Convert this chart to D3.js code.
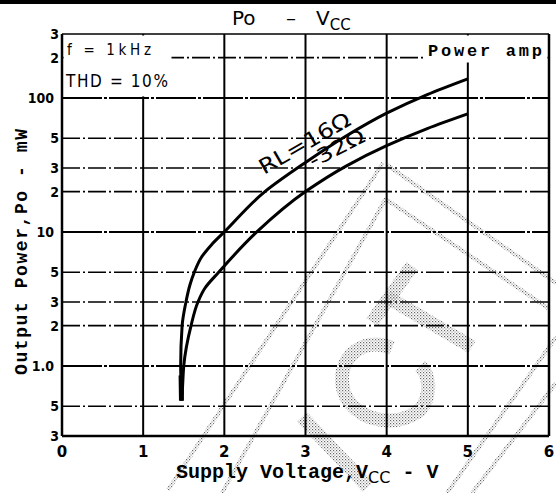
<!DOCTYPE html>
<html><head><meta charset="utf-8">
<script src="https://cdn.jsdelivr.net/npm/d3@7"></script>
<style>
html,body{margin:0;padding:0;background:#fff;}
svg{display:block;}
</style></head>
<body>
<svg id="chart" width="556" height="493"></svg>
<script>
// ---- data ----
const xTicks = [0, 1, 2, 3, 4, 5, 6];
const yTickValues = [0.3, 0.5, 1, 2, 3, 5, 10, 20, 30, 50, 100, 200, 300];
const yTickLabels = ["3", "5", "1.0", "2", "3", "5", "10", "2", "3", "5", "100", "2", "3"];
const yMinorGrid = [0.5, 2, 3, 5, 20, 30, 50, 200];
const yMajorGrid = [1, 10, 100];
const v16 = [1.472, 1.465, 1.462, 1.48, 1.527, 1.575, 1.63, 1.72, 1.84, 2.0, 2.5, 3.0, 3.5, 4.0, 4.5, 5.0];
const p16 = [0.55, 0.8, 1.0, 2.0, 3.0, 4.0, 5.0, 6.5, 8.0, 10, 20, 33, 52, 77, 106, 139];
const v32 = [1.48, 1.49, 1.50, 1.59, 1.675, 1.76, 1.93, 2.4, 3.0, 3.5, 4.0, 4.5, 5.0];
const p32 = [0.6, 0.8, 1.0, 2.0, 3.0, 3.8, 5.0, 10, 20, 31, 44, 59, 76];

const svg = d3.select("#chart");
const L = 62, R = 549, T = 34, B = 436;
const x = d3.scaleLinear().domain([0, 6]).range([L, R]);
const y = d3.scaleLog().domain([0.3, 300]).range([B, T]);

const defs = svg.append("defs");
const pat = defs.append("pattern").attr("id", "dots").attr("patternUnits", "userSpaceOnUse")
  .attr("width", 3).attr("height", 3);
pat.append("rect").attr("x", 0).attr("y", 0).attr("width", 1.2).attr("height", 1.2).attr("fill", "#666");
pat.append("rect").attr("x", 1.5).attr("y", 1.5).attr("width", 1.1).attr("height", 1.1).attr("fill", "#888");

svg.append("rect").attr("width", 556).attr("height", 493).attr("fill", "#fff");
// top border
svg.append("rect").attr("x", 0).attr("y", 0).attr("width", 556).attr("height", 4).attr("fill", "#000");

// watermark (faint dotted hatching)
const wm = svg.append("g").attr("fill", "none");
const wmLines = [
  [[168, 490], [383, 163]], [[222, 493], [386, 198]],
  [[387, 165], [556, 283]], [[387, 200], [548, 308]],
  [[447, 493], [556, 337]], [[472, 493], [556, 383]]
];
wmLines.forEach(p => wm.append("path").attr("d", d3.line()(p))
  .attr("stroke", "url(#dots)").attr("stroke-width", 4));
const wmBands = [
  "M372,322 L412,266", "M387,297 L472,347",
  "M302,417 L368,487",
  "M392,348 C362,335 334,360 344,392 C354,420 395,430 420,410 C432,395 430,375 420,366"
];
wmBands.forEach(d => wm.append("path").attr("d", d)
  .attr("stroke", "url(#dots)").attr("stroke-width", 14));

// grid
const grid = svg.append("g");
grid.selectAll("line.hmin").data(yMinorGrid).join("line")
  .attr("x1", L).attr("x2", R).attr("y1", d => y(d)).attr("y2", d => y(d))
  .attr("stroke", "#000").attr("stroke-width", 1.6).attr("stroke-dasharray", "18,3,2,3");
grid.selectAll("line.hmaj").data(yMajorGrid).join("line")
  .attr("x1", L).attr("x2", R).attr("y1", d => y(d)).attr("y2", d => y(d))
  .attr("stroke", "#000").attr("stroke-width", 2).attr("stroke-dasharray", "40,2,3,2");
grid.selectAll("line.v").data(xTicks.slice(1, -1)).join("line")
  .attr("x1", d => x(d)).attr("x2", d => x(d)).attr("y1", B).attr("y2", T)
  .attr("stroke", "#000").attr("stroke-width", 2);

// white boxes behind corner annotations
svg.append("rect").attr("x", L + 1.5).attr("y", T + 1.5).attr("width", 108).attr("height", y(100) - T - 3).attr("fill", "#fff");
svg.append("rect").attr("x", 424).attr("y", T + 1.5).attr("width", R - 424 - 1.5).attr("height", 27).attr("fill", "#fff");

// frame
svg.append("line").attr("x1", L).attr("x2", R).attr("y1", T).attr("y2", T).attr("stroke", "#000").attr("stroke-width", 1.5);
svg.append("line").attr("x1", L).attr("x2", R).attr("y1", B).attr("y2", B).attr("stroke", "#000").attr("stroke-width", 2.5);
svg.append("line").attr("x1", L).attr("x2", L).attr("y1", T).attr("y2", B).attr("stroke", "#000").attr("stroke-width", 2.5);
svg.append("line").attr("x1", R).attr("x2", R).attr("y1", T).attr("y2", B).attr("stroke", "#000").attr("stroke-width", 2.5);

// curves
const line = d3.line().x(d => x(d[0])).y(d => y(d[1])).curve(d3.curveMonotoneY);
svg.append("path").datum(v16.map((v, i) => [v, p16[i]]).reverse()).attr("d", line)
  .attr("fill", "none").attr("stroke", "#000").attr("stroke-width", 3);
svg.append("path").datum(v32.map((v, i) => [v, p32[i]]).reverse()).attr("d", line)
  .attr("fill", "none").attr("stroke", "#000").attr("stroke-width", 3);
// heavy start blob
svg.append("path").datum([[1.472, 0.55], [1.467, 0.85]]).attr("d", d3.line().x(d => x(d[0])).y(d => y(d[1])))
  .attr("stroke", "#000").attr("stroke-width", 5);

// y tick labels
svg.append("g").selectAll("text").data(yTickValues).join("text")
  .attr("x", (d, i) => yTickLabels[i].length > 1 ? 54 : 59)
  .attr("y", d => y(d) + 5)
  .attr("text-anchor", "end")
  .attr("font-family", "DejaVu Sans Condensed, DejaVu Sans, sans-serif")
  .attr("font-weight", "bold").attr("font-size", 14)
  .text((d, i) => yTickLabels[i]);

// x tick labels
svg.append("g").selectAll("text").data(xTicks).join("text")
  .attr("x", d => x(d)).attr("y", 457)
  .attr("text-anchor", "middle")
  .attr("font-family", "DejaVu Sans, sans-serif")
  .attr("font-weight", "bold").attr("font-size", 15)
  .text(d => d);

// title
const title = svg.append("text").attr("x", 232).attr("y", 25)
  .attr("font-family", "DejaVu Sans, sans-serif").attr("font-size", 20);
title.append("tspan").text("Po");
title.append("tspan").attr("x", 286).text("–");
title.append("tspan").attr("x", 316).text("V");
title.append("tspan").attr("font-size", 15).attr("dy", 5).text("CC");

// annotations
svg.append("text").attr("x", 67).attr("y", 55)
  .attr("font-family", "DejaVu Sans Condensed, DejaVu Sans, sans-serif").attr("font-size", 15)
  .attr("textLength", 84).attr("lengthAdjust", "spacing").text("f = 1kHz");
svg.append("text").attr("x", 66).attr("y", 87)
  .attr("font-family", "DejaVu Sans Condensed, DejaVu Sans, sans-serif").attr("font-size", 17)
  .attr("textLength", 102).attr("lengthAdjust", "spacing").text("THD = 10%");
svg.append("text").attr("x", 428).attr("y", 56)
  .attr("font-family", "Liberation Mono, monospace").attr("font-weight", "bold").attr("font-size", 17)
  .attr("textLength", 114).attr("lengthAdjust", "spacing").text("Power amp");

// curve labels
svg.append("text").attr("transform", "translate(264,175) rotate(-30)")
  .attr("font-family", "DejaVu Sans Condensed, DejaVu Sans, sans-serif").attr("font-size", 21)
  .attr("textLength", 102).attr("lengthAdjust", "spacingAndGlyphs").text("RL=16Ω");
svg.append("text").attr("transform", "translate(313,168) rotate(-27)")
  .attr("font-family", "DejaVu Sans Condensed, DejaVu Sans, sans-serif").attr("font-size", 20)
  .attr("textLength", 60).attr("lengthAdjust", "spacingAndGlyphs").text("-32Ω");

// x axis title
const xt = svg.append("text").attr("x", 176).attr("y", 478)
  .attr("font-family", "Liberation Mono, monospace").attr("font-weight", "bold").attr("font-size", 20);
xt.append("tspan").text("Supply Voltage,V");
xt.append("tspan").attr("font-family", "DejaVu Sans, sans-serif").attr("font-weight", "normal")
  .attr("font-size", 16).attr("dy", 5).text("CC");
xt.append("tspan").attr("dy", -5).text(" - V");

// y axis title
svg.append("text").attr("transform", "translate(27,252) rotate(-90)")
  .attr("text-anchor", "middle")
  .attr("font-family", "Liberation Mono, monospace").attr("font-weight", "bold").attr("font-size", 18)
  .attr("textLength", 246).attr("lengthAdjust", "spacing")
  .text("Output Power,Po - mW");
</script>
</body></html>
